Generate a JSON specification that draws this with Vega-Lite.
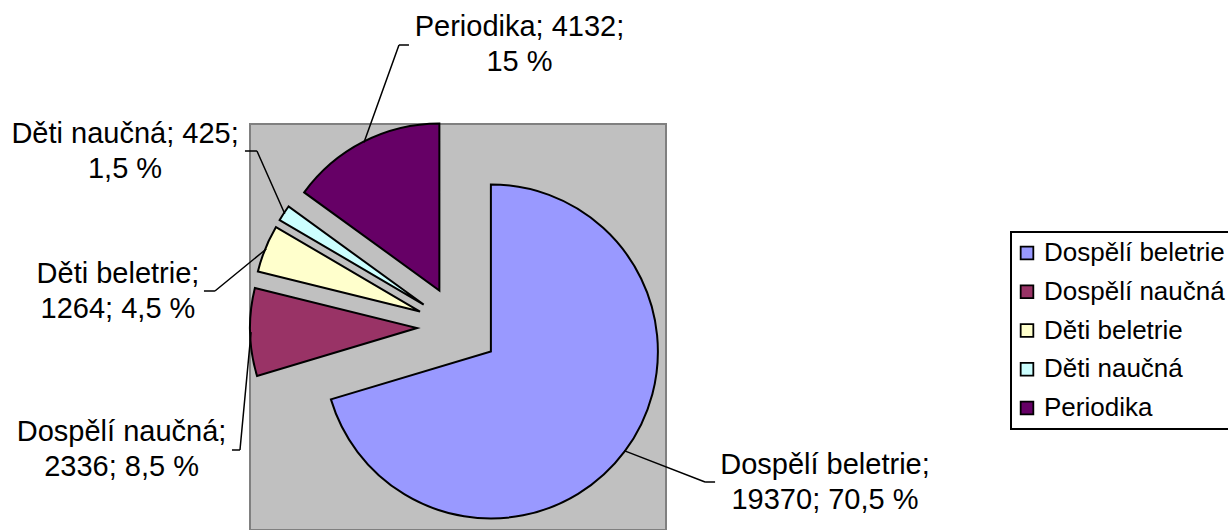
{
  "$schema": "https://vega.github.io/schema/vega-lite/v6.json",
  "width": 416,
  "height": 406,
  "autosize": {"type": "none"},
  "padding": {"left": 250, "top": 124, "right": 562, "bottom": 0},
  "background": "white",
  "view": {"fill": "#C0C0C0", "stroke": "#808080", "strokeWidth": 2},
  "config": {
    "view": {"fill": "#C0C0C0", "stroke": "#808080", "strokeWidth": 2},
    "font": "Liberation Sans"
  },
  "data": {
    "values": [
      {"kategorie": "Dospělí beletrie", "pocet": 19370, "poradi": 1, "popisek": "Dospělí beletrie;\n19370; 70,5 %"},
      {"kategorie": "Dospělí naučná", "pocet": 2336, "poradi": 2, "popisek": "Dospělí naučná;\n2336; 8,5 %"},
      {"kategorie": "Děti beletrie", "pocet": 1264, "poradi": 3, "popisek": "Děti beletrie;\n1264; 4,5 %"},
      {"kategorie": "Děti naučná", "pocet": 425, "poradi": 4, "popisek": "Děti naučná; 425;\n1,5 %"},
      {"kategorie": "Periodika", "pocet": 4132, "poradi": 5, "popisek": "Periodika; 4132;\n15 %"}
    ]
  },
  "transform": [
    {"stack": "pocet", "groupby": [], "sort": [{"field": "poradi", "order": "ascending"}], "as": ["s", "e"]}
  ],
  "layer": [
    {
      "mark": {
        "type": "arc",
        "radius": 167,
        "stroke": "black",
        "strokeWidth": 2,
        "xOffset": {"expr": "41 * sin(scale('theta', (datum.s + datum.e) / 2))"},
        "yOffset": {"expr": "-41 * cos(scale('theta', (datum.s + datum.e) / 2))"}
      },
      "encoding": {
        "theta": {"field": "s", "type": "quantitative", "stack": null, "scale": {"zero": true, "nice": false}},
        "theta2": {"field": "e"},
        "color": {
          "field": "kategorie",
          "type": "nominal",
          "scale": {
            "domain": ["Dospělí beletrie", "Dospělí naučná", "Děti beletrie", "Děti naučná", "Periodika"],
            "range": ["#9999FF", "#993366", "#FFFFCC", "#CCFFFF", "#660066"]
          },
          "legend": {
            "title": null,
            "orient": "none",
            "legendX": 761,
            "legendY": 108,
            "padding": 8,
            "fillColor": "white",
            "strokeColor": "black",
            "symbolType": "square",
            "symbolSize": 160,
            "symbolStrokeColor": "black",
            "symbolStrokeWidth": 1.8,
            "symbolOffset": -5,
            "labelFont": "Liberation Sans",
            "labelFontSize": 26,
            "labelColor": "black",
            "labelOffset": 4,
            "labelLimit": 400,
            "rowPadding": 12.75,
            "encode": {"legend": {"update": {"strokeWidth": {"value": 2}}}}
          }
        }
      }
    },
    {
      "mark": {
        "type": "arc",
        "filled": false,
        "stroke": "black",
        "strokeWidth": 1.5,
        "radius": {"expr": "[86.9, 118.5, 66.3, 68.6, 103.7][datum.poradi - 1]"},
        "radius2": 0,
        "theta": {"expr": "[1.9408, 3.2353, 4.0264, 5.8661, 0.3444][datum.poradi - 1]"},
        "theta2": {"expr": "[1.9408, 3.2353, 4.0264, 5.8661, 0.3444][datum.poradi - 1]"},
        "xOffset": {"expr": "207 * sin(scale('theta', (datum.s + datum.e) / 2))"},
        "yOffset": {"expr": "-207 * cos(scale('theta', (datum.s + datum.e) / 2))"}
      },
      "encoding": {}
    },
    {
      "mark": {
        "type": "arc",
        "filled": false,
        "stroke": "black",
        "strokeWidth": 1.5,
        "radius": {"expr": "[10, 8, 11, 12, 10][datum.poradi - 1]"},
        "radius2": 0,
        "theta": {"expr": "[1.5708, 4.7124, 4.7124, 4.7124, 1.5708][datum.poradi - 1]"},
        "theta2": {"expr": "[1.5708, 4.7124, 4.7124, 4.7124, 1.5708][datum.poradi - 1]"},
        "xOffset": {"expr": "207 * sin(scale('theta', (datum.s + datum.e) / 2)) + [86.9, 118.5, 66.3, 68.6, 103.7][datum.poradi - 1] * sin([1.9408, 3.2353, 4.0264, 5.8661, 0.3444][datum.poradi - 1])"},
        "yOffset": {"expr": "-207 * cos(scale('theta', (datum.s + datum.e) / 2)) - [86.9, 118.5, 66.3, 68.6, 103.7][datum.poradi - 1] * cos([1.9408, 3.2353, 4.0264, 5.8661, 0.3444][datum.poradi - 1])"}
      },
      "encoding": {}
    },
    {
      "mark": {
        "type": "text",
        "font": "Liberation Sans",
        "fontSize": 29,
        "lineHeight": 35,
        "lineBreak": "\n",
        "align": "center",
        "baseline": "middle",
        "dy": -17.5,
        "color": "black",
        "radius": {"expr": "[398.4, 357.9, 341.9, 376.6, 289.6][datum.poradi - 1]"},
        "thetaOffset": {"expr": "(scale('theta', datum.s) - scale('theta', datum.e)) / 2 + [-0.2402, -0.3234, -0.2810, -0.0929, 0.6856][datum.poradi - 1]"}
      },
      "encoding": {
        "theta": {"field": "e", "type": "quantitative", "stack": null},
        "text": {"field": "popisek"}
      }
    }
  ]
}
